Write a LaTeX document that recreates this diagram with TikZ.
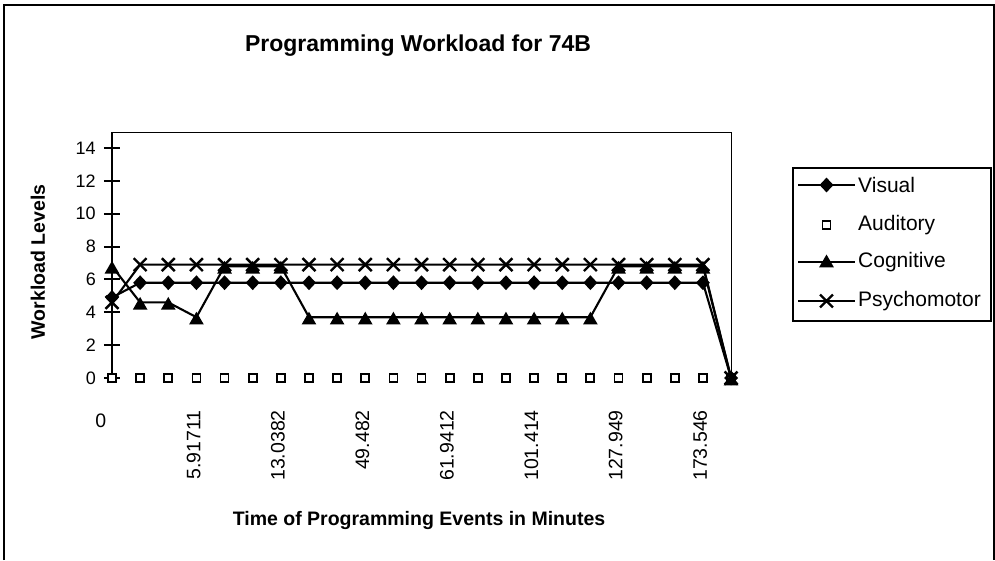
\documentclass[tikz,border=0pt]{standalone}
\usepackage{fontspec}
\setmainfont{Liberation Sans}
\usetikzlibrary{shapes.geometric, shapes.misc, positioning, calc}

\tikzset{
  serline/.style={line width=2.1pt, line join=round},
  vismark/.style={diamond, fill=black, inner sep=0, minimum width=14pt, minimum height=15pt},
  audmark/.style={rectangle, draw=black, fill=white, line width=1.8pt, inner sep=0, minimum size=8pt},
  cogmark/.style={regular polygon, regular polygon sides=3, fill=black, inner sep=0, minimum size=17pt, yshift=-3pt},
  psymark/.style={cross out, draw=black, line width=2.4pt, inner sep=0, minimum size=10.5pt},
  ticklabel/.style={font=\fontsize{18}{21}\selectfont, anchor=east, inner sep=0},
  catlabel/.style={font=\fontsize{19.5}{23}\selectfont, rotate=90, anchor=east, inner sep=0},
  legtext/.style={font=\fontsize{21}{25}\selectfont, anchor=west, inner sep=0},
  axtitle/.style={font=\bfseries\fontsize{19.5}{23}\selectfont, inner sep=0},
}

\begin{document}
\begin{tikzpicture}[x=1pt, y=-1pt]
  \useasboundingbox (0,0) rectangle (995,560);

  % outer frame
  \draw[line width=1.2pt] (4,560) -- (4,5) -- (994,5) -- (994,560);

  \node[axtitle, font=\bfseries\fontsize{23}{27}\selectfont] (title) at (418,46) {Programming Workload for 74B};
  \node[axtitle] (xtitle) at (419,520) {Time of Programming Events in Minutes};
  \node[axtitle, rotate=90] (ytitle) at (38,262) {Workload Levels};

  % plot area
  \draw[line width=1pt] (112,132) -- (731,132) -- (731,378);

  \begin{scope}[shift={(112,378)}, x=28.14pt, y=16.43pt]
    \draw[line width=2.2pt] (0,0) -- (0,14.97);
    \foreach \t in {0,2,...,14} {
      \draw[line width=2pt] (-0.29,\t) -- (0.29,\t);
      \node[ticklabel] (ytick\t) at (-0.57,\t) {\t};
    }

    % data points
    \foreach \v [count=\i from 0] in {4.9,5.8,5.8,5.8,5.8,5.8,5.8,5.8,5.8,5.8,5.8,5.8,5.8,5.8,5.8,5.8,5.8,5.8,5.8,5.8,5.8,5.8,0}
      \coordinate (vis\i) at (\i,\v);
    \foreach \i in {0,...,22}
      \coordinate (aud\i) at (\i,0);
    \foreach \v [count=\i from 0] in {6.8,4.6,4.6,3.7,6.8,6.8,6.8,3.7,3.7,3.7,3.7,3.7,3.7,3.7,3.7,3.7,3.7,3.7,6.8,6.8,6.8,6.8,0}
      \coordinate (cog\i) at (\i,\v);
    \foreach \v [count=\i from 0] in {4.6,6.9,6.9,6.9,6.9,6.9,6.9,6.9,6.9,6.9,6.9,6.9,6.9,6.9,6.9,6.9,6.9,6.9,6.9,6.9,6.9,6.9,0}
      \coordinate (psy\i) at (\i,\v);

    % Visual
    \draw[serline] (vis0) \foreach \i in {1,...,22} { -- (vis\i) };
    \foreach \i in {0,...,22}
      \node[vismark] (visdot\i) at (vis\i) {};
    % Auditory
    \foreach \i in {0,...,22}
      \node[audmark] (auddot\i) at (aud\i) {};
    % Cognitive
    \draw[serline] (cog0) \foreach \i in {1,...,22} { -- (cog\i) };
    \foreach \i in {0,...,22}
      \node[cogmark] (cogdot\i) at (cog\i) {};
    % Psychomotor
    \draw[serline] (psy0) \foreach \i in {1,...,22} { -- (psy\i) };
    \foreach \i in {0,...,22}
      \node[psymark] (psydot\i) at (psy\i) {};

    % category labels
    \node[font=\fontsize{19.5}{23}\selectfont] (cat0) at (-0.4,-2.6) {0};
    \foreach \t [count=\k] in {5.91711,13.0382,49.482,61.9412,101.414,127.949,173.546}
      \node[catlabel] (cat\k) at (3*\k-0.1,-1.95) {\t};
  \end{scope}

  % legend
  \node[draw, line width=1.6pt, anchor=north west, minimum width=198pt, minimum height=153pt] (legend) at (792,167) {};
  \coordinate (lvisa) at (798,185);   \coordinate (lvisb) at (855,185);
  \coordinate (lcoga) at (798,262);   \coordinate (lcogb) at (855,262);
  \coordinate (lpsya) at (798,301);   \coordinate (lpsyb) at (855,301);
  \draw[serline] (lvisa) -- (lvisb);
  \node[vismark] (lvisdot) at ($(lvisa)!0.5!(lvisb)$) {};
  \node[legtext] (lvistext) at (858,185) {Visual};
  \node[audmark] (lauddot) at (826.5,225) {};
  \node[legtext] (laudtext) at (858,225) {Auditory};
  \draw[serline] (lcoga) -- (lcogb);
  \node[cogmark, yshift=2pt] (lcogdot) at ($(lcoga)!0.5!(lcogb)$) {};
  \node[legtext] (lcogtext) at (858,262) {Cognitive};
  \draw[serline] (lpsya) -- (lpsyb);
  \node[psymark] (lpsydot) at ($(lpsya)!0.5!(lpsyb)$) {};
  \node[legtext] (lpsytext) at (858,301) {Psychomotor};
\end{tikzpicture}
\end{document}
